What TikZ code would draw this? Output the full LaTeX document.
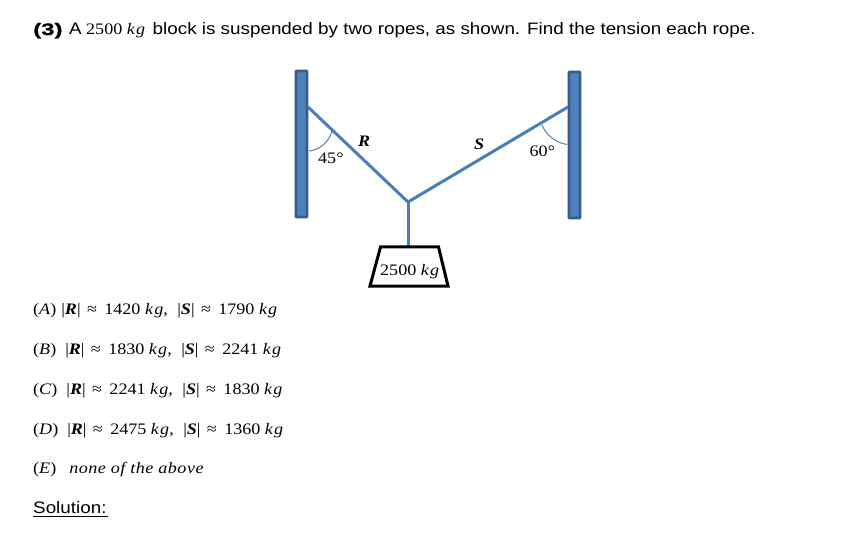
\documentclass[tikz,border=0pt]{standalone}
\usepackage{fontspec}
\setmainfont[FakeStretch=1.13]{Liberation Serif}
\newfontfamily\headfont[FakeStretch=1.135]{Liberation Sans}
\newfontfamily\boldhead[FakeStretch=1.45,FakeBold=1.2]{Liberation Sans Bold}
\newcommand{\kgu}{\textit{k\kern1.2pt g}}
\newcommand{\approxgap}{\kern6.4pt≈\kern7.4pt}
\newcommand{\Rabs}{|\textbf{\textit{R}}|}
\newcommand{\Sabs}{|\textbf{\textit{S}}|}
\definecolor{rope}{HTML}{4A7EBB}
\definecolor{postfill}{HTML}{4F81BD}
\definecolor{postline}{HTML}{385D8A}
\definecolor{arcc}{HTML}{4F7FAF}
\begin{document}
\begin{tikzpicture}[x=1pt,y=-1pt,
  mtext/.style={anchor=base west,inner sep=0pt,font=\fontsize{16}{18}\selectfont},
  htext/.style={anchor=base west,inner sep=0pt,font=\headfont\fontsize{16.6}{18}\selectfont},
  postbox/.style={draw=postline,fill=postfill,line width=2.6pt,rounded corners=0.5pt},
  ropeline/.style={draw=rope,line width=3pt},
  anglearc/.style={draw=arcc,line width=1pt},
  blockline/.style={draw=black,line width=3pt,line join=miter}]
\useasboundingbox (0,0) rectangle (846,540);
\fill[white] (0,0) rectangle (846,540);

\node[htext,font=\boldhead\fontsize{16.6}{18}\selectfont] (head) at (33,35) {(3)};
\node[htext] (head2) at (69,35) {A};
\node[mtext] (head3) at (86,35) {2500 \kgu};
\node[htext] (head4) at (152.5,35) {block is suspended by two ropes, as shown. Find the tension each rope.};

\draw[postbox] (296,71) rectangle (307,217);
\draw[postbox] (569,72) rectangle (580,218);

\coordinate (lt) at (308,107);
\coordinate (rt) at (568,107);
\coordinate (knot) at (408,202);
\coordinate (blocktop) at (408,246);
\draw[ropeline] (lt) -- (knot) -- (rt);
\draw[ropeline] (knot) -- (blocktop);

\draw[blockline] (380.5,247) -- (438.5,247) -- (448,286) -- (370,286) -- cycle;
\node[mtext] (mass) at (380,276) {2500 \kgu};

\draw[anglearc] (309,151) .. controls (320,150) and (329,142) .. (332,131);
\draw[anglearc] (542,125) .. controls (546,135) and (556,143) .. (567,144.5);

\node[mtext] (a45) at (318,164) {45°};
\node[mtext] (a60) at (529.5,157) {60°};
\node[mtext] (labR) at (358,147) {\textbf{\textit{R}}};
\node[mtext] (labS) at (474,150) {\textbf{\textit{S}}};

\node[mtext] (optA) at (33,314) {(\textit{A})\kern5pt\Rabs\approxgap 1420 \kgu,\kern9.5pt\Sabs\approxgap 1790 \kgu};
\node[mtext] (optB) at (33,354) {(\textit{B})\kern9pt\Rabs\approxgap 1830 \kgu,\kern9.5pt\Sabs\approxgap 2241 \kgu};
\node[mtext] (optC) at (33,394) {(\textit{C})\kern9pt\Rabs\approxgap 2241 \kgu,\kern9.5pt\Sabs\approxgap 1830 \kgu};
\node[mtext] (optD) at (33,434) {(\textit{D})\kern9pt\Rabs\approxgap 2475 \kgu,\kern9.5pt\Sabs\approxgap 1360 \kgu};
\node[mtext] (optE) at (33,473) {(\textit{E})\kern13pt\addfontfeature{LetterSpace=3}\textit{none of the above}};
\node[htext] (sol) at (33,513) {Solution:};
\draw[line width=0.9pt] (33,516) -- (108,516);
\end{tikzpicture}
\end{document}
